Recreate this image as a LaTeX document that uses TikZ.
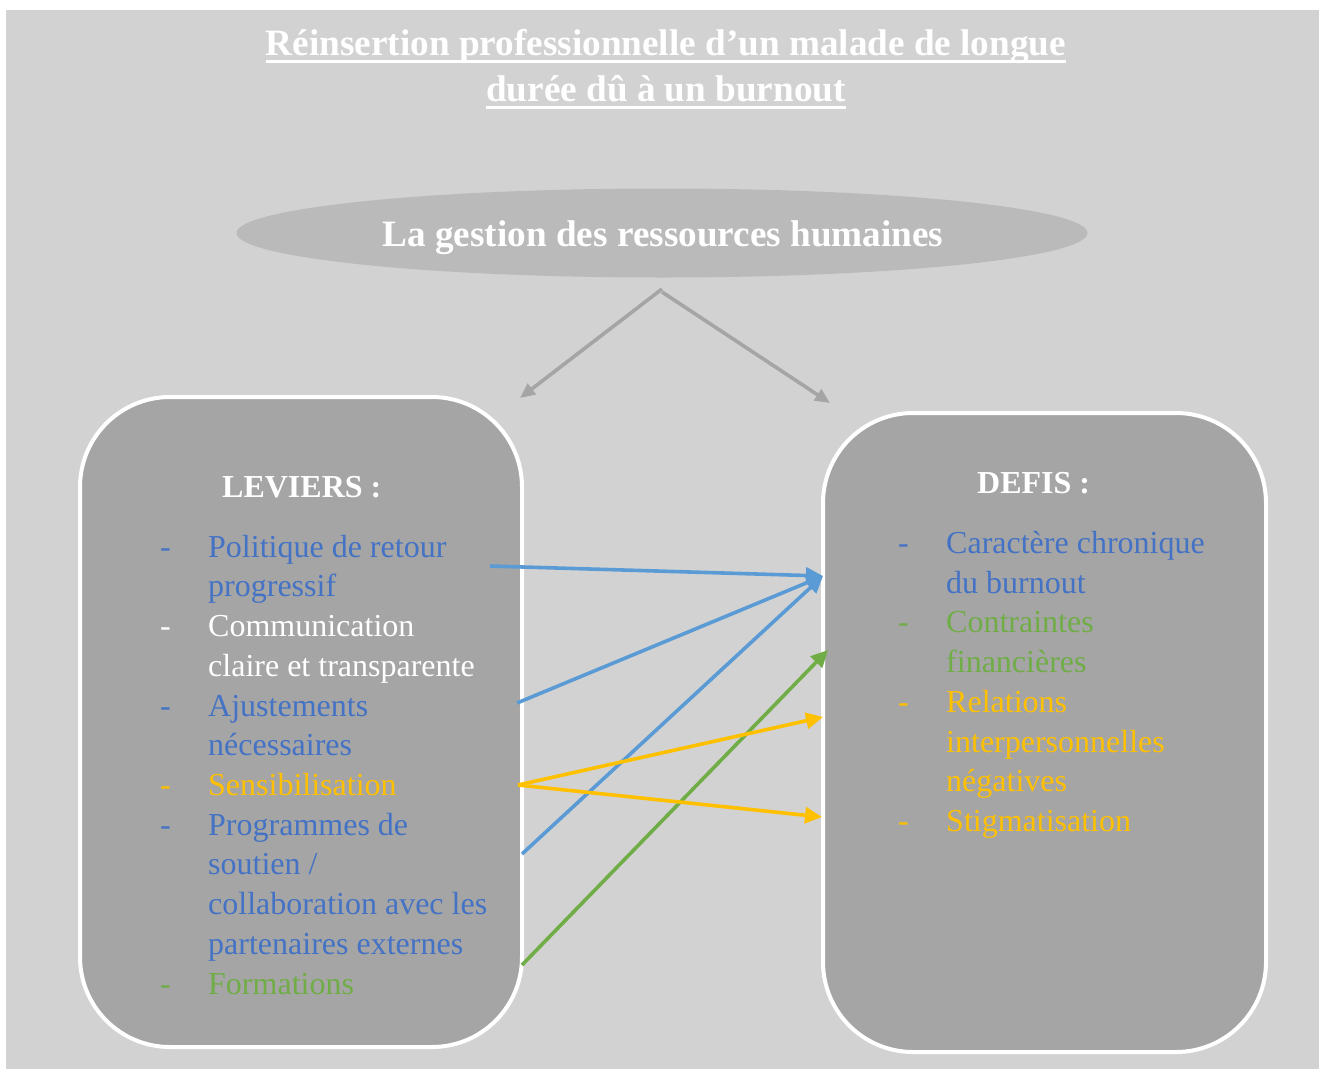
\documentclass[tikz,border=0pt]{standalone}
\usepackage{fontspec}
\setmainfont{Liberation Serif}
\usetikzlibrary{shapes.geometric,arrows.meta}
\definecolor{bg}{HTML}{D2D2D2}
\definecolor{boxfill}{HTML}{A5A5A5}
\definecolor{ellfill}{HTML}{BABABA}
\definecolor{tblue}{HTML}{4472C4}
\definecolor{ablue}{HTML}{5B9BD5}
\definecolor{torange}{HTML}{FFC000}
\definecolor{tgreen}{HTML}{70AD47}
\definecolor{agray}{HTML}{A5A5A5}
\tikzset{
  panel/.style={draw=white, line width=4pt, fill=boxfill, rounded corners=90pt},
  item/.style={anchor=base west, inner sep=0pt, font=\fontsize{32}{38}\selectfont},
  head/.style={anchor=base west, inner sep=0pt, font=\fontsize{32}{38}\selectfont\bfseries, text=white},
  ttl/.style={anchor=base, inner sep=0pt, font=\fontsize{37.2}{44}\selectfont\bfseries, text=white},
  uline/.style={white, line width=3pt},
  link/.style={line width=3.6pt, -{Triangle[length=17pt,width=16pt]}},
  split/.style={agray, line width=3.6pt, -{Triangle[length=15pt,width=13pt]}},
}
\begin{document}
\begin{tikzpicture}[x=1pt,y=-1pt]
\useasboundingbox (0,0) rectangle (1319,1069);
\fill[bg] (6,10) rectangle (1319,1069);
% title
\node[ttl] (title1) at (666,55) {Réinsertion professionnelle d’un malade de longue};
\node[ttl] (title2) at (666,101) {durée dû à un burnout};
\draw[uline] ([yshift=-6pt]title1.base west) -- ([yshift=-6pt]title1.base east);
\draw[uline] ([yshift=-6pt]title2.base west) -- ([yshift=-6pt]title2.base east);
% ellipse
\node[ellipse, fill=ellfill, minimum width=851pt, minimum height=89pt, inner sep=0pt] (grh) at (662,233) {};
\node[ttl] (grhtext) at (663,246) {La gestion des ressources humaines};
% panels
\draw[panel] (80,397) rectangle (522,1047);
\draw[panel] (823,413) rectangle (1266,1052);
\coordinate (split1) at (662,289);
\coordinate (split2) at (662,292);
\coordinate (lev) at (520,398);
\coordinate (def) at (830,403);
\draw[split] (split1) -- (lev);
\draw[split] (split2) -- (def);
% left heading
\node[head] (levhead) at (222,497) {LEVIERS :};
% left items
\node[item, text=tblue] (d1) at (160,557) {-};
\node[item, text=tblue] (l1a) at (208,557) {Politique de retour};
\node[item, text=tblue] (l1b) at (208,596.5) {progressif};
\node[item, text=white] (d2) at (160,636) {-};
\node[item, text=white] (l2a) at (208,636) {Communication};
\node[item, text=white] (l2b) at (208,676) {claire et transparente};
\node[item, text=tblue] (d3) at (160,716) {-};
\node[item, text=tblue] (l3a) at (208,716) {Ajustements};
\node[item, text=tblue] (l3b) at (208,755) {nécessaires};
\node[item, text=torange] (d4) at (160,795) {-};
\node[item, text=torange] (l4) at (208,795) {Sensibilisation};
\node[item, text=tblue] (d5) at (160,835) {-};
\node[item, text=tblue] (l5a) at (208,835) {Programmes de};
\node[item, text=tblue] (l5b) at (208,874) {soutien /};
\node[item, text=tblue] (l5c) at (208,914) {collaboration avec les};
\node[item, text=tblue] (l5d) at (208,954) {partenaires externes};
\node[item, text=tgreen] (d6) at (160,994) {-};
\node[item, text=tgreen] (l6) at (208,994) {Formations};
% right heading
\node[head] (defhead) at (977,493) {DEFIS :};
\node[item, text=tblue] (e1) at (898,553) {-};
\node[item, text=tblue] (r1a) at (946,553) {Caractère chronique};
\node[item, text=tblue] (r1b) at (946,593) {du burnout};
\node[item, text=tgreen] (e2) at (898,632) {-};
\node[item, text=tgreen] (r2a) at (946,632) {Contraintes};
\node[item, text=tgreen] (r2b) at (946,672) {financières};
\node[item, text=torange] (e3) at (898,712) {-};
\node[item, text=torange] (r3a) at (946,712) {Relations};
\node[item, text=torange] (r3b) at (946,752) {interpersonnelles};
\node[item, text=torange] (r3c) at (946,791) {négatives};
\node[item, text=torange] (e4) at (898,831) {-};
\node[item, text=torange] (r4) at (946,831) {Stigmatisation};
% connector end points
\coordinate (s1) at (490,566);
\coordinate (s3) at (517,703);
\coordinate (s4) at (518,785);
\coordinate (s5) at (522,854);
\coordinate (s6) at (522,965);
\coordinate (t1) at (823,576);
\coordinate (t2) at (828,650);
\coordinate (t3) at (823,717);
\coordinate (t4) at (822,817);
\draw[link, ablue] (s1) -- (t1);
\draw[link, ablue] (s3) -- (t1);
\draw[link, ablue] (s5) -- (t1);
\draw[link, tgreen] (s6) -- (t2);
\draw[link, torange] (s4) -- (t3);
\draw[link, torange] (s4) -- (t4);
\end{tikzpicture}
\end{document}
